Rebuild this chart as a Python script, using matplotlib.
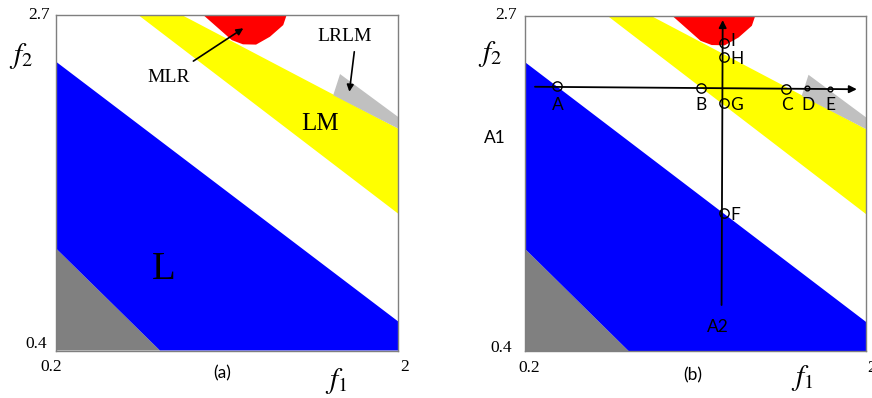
import matplotlib
matplotlib.use("Agg")
import matplotlib.pyplot as plt

# Region boundaries in (f1, f2) coordinates.
GRAY_X = [0.2, 0.2, 0.747]
GRAY_Y = [0.4, 1.10, 0.4]
BLUE_X = [0.2, 0.2, 2.0, 2.0, 0.747]
BLUE_Y = [1.10, 2.38, 0.60, 0.4, 0.4]
YELLOW_X = [0.633, 0.862, 2.0, 2.0]
YELLOW_Y = [2.7, 2.7, 1.922, 1.339]
LIGHT_X = [1.659, 1.695, 2.0, 2.0]
LIGHT_Y = [2.15, 2.295, 2.002, 1.922]
RED_X = [0.975, 1.125, 1.184, 1.253, 1.326, 1.396, 1.414]
RED_Y = [2.7, 2.528, 2.499, 2.497, 2.551, 2.631, 2.7]

# Panel (b): points along the two paths
PT_NAMES = ["A", "B", "C", "D", "E", "F", "G", "H", "I"]
PT_X = [0.369, 1.126, 1.575, 1.689, 1.809, 1.249, 1.249, 1.249, 1.251]
PT_Y = [2.218, 2.202, 2.196, 2.202, 2.200, 1.350, 2.104, 2.415, 2.511]
PT_SMALL = ["D", "E"]
H_PATH = [(0.251, 2.213), (1.95, 2.196)]
V_PATH = [(1.236, 0.717), (1.242, 2.67)]

W, H = 872, 398
SERIF = "Liberation Serif"
SANS = "Lato"
SANS_SIZE = 12.5

plt.rcParams["mathtext.fontset"] = "stix"

fig = plt.figure(figsize=(W / 100, H / 100), dpi=100)


def px(x, y):
    return x / W, 1 - y / H


def draw_regions(ax):
    ax.fill(GRAY_X, GRAY_Y, color="#808080", lw=0)
    ax.fill(BLUE_X, BLUE_Y, color="#0000ff", lw=0)
    ax.fill(YELLOW_X, YELLOW_Y, color="#ffff00", lw=0)
    ax.fill(LIGHT_X, LIGHT_Y, color="#c0c0c0", lw=0)
    ax.fill(RED_X, RED_Y, color="#ff0000", lw=0)
    ax.set_xlim(0.2, 2.0)
    ax.set_ylim(0.4, 2.7)
    ax.set_xticks([])
    ax.set_yticks([])
    for s in ax.spines.values():
        s.set_color("#7f7f7f")
        s.set_linewidth(1.0)


def axis_labels(x0, x1, y0, y1, f2, f1, tag, tag_str):
    # corner tick values and axis names, placed in figure pixels (baselines)
    fig.text(*px(*x0), "0.2", family=SERIF, fontsize=12.5, ha="center", va="baseline")
    fig.text(*px(*x1), "2", family=SERIF, fontsize=12.5, ha="left", va="baseline")
    fig.text(*px(*y0), "0.4", family=SERIF, fontsize=12.5, ha="right", va="baseline")
    fig.text(*px(*y1), "2.7", family=SERIF, fontsize=12.5, ha="right", va="baseline")
    fig.text(*px(*f2), r"$f_2$", fontsize=21, ha="center", va="center")
    fig.text(*px(*f1), r"$f_1$", fontsize=21, ha="center", va="center")
    fig.text(*px(*tag), tag_str, family=SANS, fontsize=SANS_SIZE,
             ha="center", va="center")


# ---- panel (a)
ax1 = fig.add_axes([56 / W, 1 - 350.5 / H, 342 / W, 335.5 / H])
draw_regions(ax1)
ax1.text(0.794, 2.242, "MLR", family=SERIF, fontsize=14, ha="center", va="baseline")
ax1.text(1.721, 2.524, "LRLM", family=SERIF, fontsize=14, ha="center", va="baseline")
ax1.text(1.588, 1.911, "LM", family=SERIF, fontsize=18, ha="center", va="baseline")
ax1.text(0.768, 0.893, "L", family=SERIF, fontsize=28, ha="center", va="baseline")
ax1.annotate("", xy=(1.186, 2.609), xytext=(0.923, 2.384),
             arrowprops=dict(arrowstyle="-|>", color="black", lw=1.2,
                             mutation_scale=10, shrinkA=0, shrinkB=0))
ax1.annotate("", xy=(1.744, 2.174), xytext=(1.770, 2.448),
             arrowprops=dict(arrowstyle="-|>", color="black", lw=1.2,
                             mutation_scale=10, shrinkA=0, shrinkB=0))
axis_labels((51, 371), (400, 371), (47, 348), (50, 19), (21.5, 56), (336, 381),
            (222, 373), "(a)")

# ---- panel (b)
ax2 = fig.add_axes([525.3 / W, 1 - 351.3 / H, 341 / W, 335.6 / H])
draw_regions(ax2)
for path in (H_PATH, V_PATH):
    ax2.annotate("", xy=path[1], xytext=path[0],
                 arrowprops=dict(arrowstyle="-|>", color="black", lw=1.3,
                                 mutation_scale=11, shrinkA=0, shrinkB=0))
for name, x, y in zip(PT_NAMES, PT_X, PT_Y):
    ms = 3.4 if name in PT_SMALL else 6.7
    ax2.plot(x, y, "o", ms=ms, mfc="none", mec="black", mew=1.0)

# label offsets (in data units) relative to each point
below = ["A", "B", "C", "D", "E"]
for name, x, y in zip(PT_NAMES, PT_X, PT_Y):
    if name in below:
        ax2.text(x + 0.004, 2.054, name, family=SANS, fontsize=SANS_SIZE,
                 ha="center", va="baseline")
    else:
        dy = {"F": -0.05, "G": -0.05, "H": -0.046, "I": -0.017}[name]
        ax2.text(x + 0.034, y + dy, name, family=SANS, fontsize=SANS_SIZE,
                 ha="left", va="baseline")

fig.text(*px(495, 142.7), "A1", family=SANS, fontsize=SANS_SIZE, ha="center", va="baseline")
fig.text(*px(718.3, 332.3), "A2", family=SANS, fontsize=SANS_SIZE, ha="center", va="baseline")
axis_labels((529, 371.5), (867, 371.5), (511.7, 352.5), (517, 19), (490, 54), (802, 378),
            (693, 375), "(b)")

fig.savefig("out.png", dpi=100, facecolor="white")
